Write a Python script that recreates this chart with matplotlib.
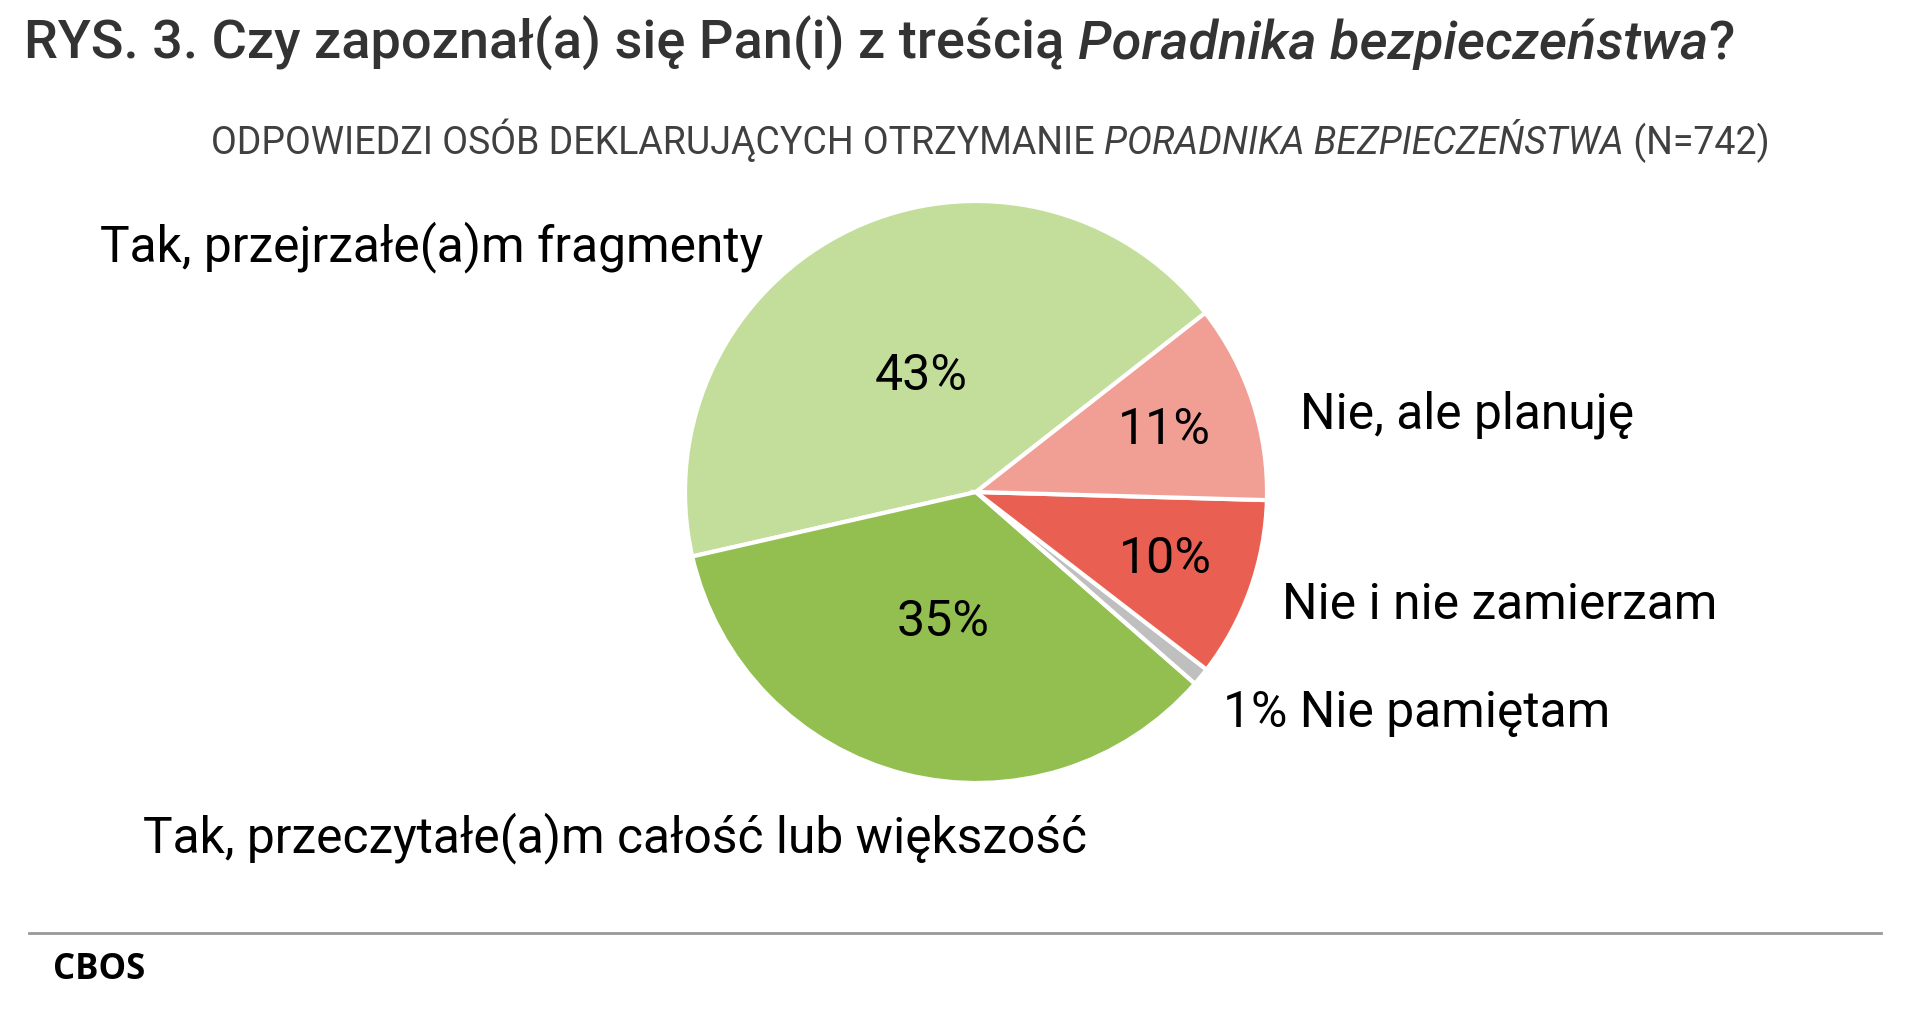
import matplotlib
matplotlib.use("Agg")
import matplotlib.pyplot as plt
import numpy as np

# ---- data ----
categories = ["Tak, przejrzałe(a)m fragmenty",
              "Tak, przeczytałe(a)m całość lub większość",
              "Nie pamiętam",
              "Nie i nie zamierzam",
              "Nie, ale planuję"]
values = [43, 35, 1, 10, 11]
colors = ["#c3de9a", "#93bf51", "#bfbfbf", "#e96052", "#f19e94"]

title_parts = [("RYS. 3. Czy zapoznał(a) się Pan(i) z treścią ", "normal"),
               ("Poradnika bezpieczeństwa", "italic"),
               ("?", "normal")]
subtitle_parts = [("ODPOWIEDZI OSÓB DEKLARUJĄCYCH OTRZYMANIE ", "normal"),
                  ("PORADNIKA BEZPIECZEŃSTWA", "italic"),
                  (" (N=742)", "normal")]
source = "CBOS"

W, H = 1905, 1032
fig = plt.figure(figsize=(W / 100, H / 100), dpi=100)
fig.patch.set_facecolor("white")

def fx(x):
    return x / W

def fy(y):
    return 1 - y / H

FONT = "Roboto"

# ---- pie ----
cx, cy, R = 976, 492, 291
ax = fig.add_axes([fx(cx - R), fy(cy + R), 2 * R / W, 2 * R / H])
wedges, _ = ax.pie(values, colors=colors, startangle=38, counterclock=True,
                   wedgeprops=dict(edgecolor="white", linewidth=3))
ax.set_xlim(-1, 1)
ax.set_ylim(-1, 1)
ax.set_aspect("equal")
for w in wedges:
    w.set_clip_on(False)

# inner percentage labels
pct_dist = [0.44, 0.46, None, 0.69, 0.68]
for w, v, d in zip(wedges, values, pct_dist):
    if d is None:
        continue
    ang = np.deg2rad((w.theta1 + w.theta2) / 2)
    ax.text(d * np.cos(ang), d * np.sin(ang), f"{v}%", ha="center", va="center",
            fontsize=36, family=FONT, color="black")

# outer labels
outer = [
    (categories[0], 100, 247, "left"),
    (categories[1], 143, 838, "left"),
    (f"{values[2]}% {categories[2]}", 1223, 713, "left"),
    (categories[3], 1282, 605, "left"),
    (categories[4], 1300, 415, "left"),
]
for txt, x, y, ha in outer:
    fig.text(fx(x), fy(y), txt, ha=ha, va="center", fontsize=35.8,
             family=FONT, color="black")

# ---- title / subtitle with mixed styles ----
renderer = fig.canvas.get_renderer()

def draw_parts(parts, x0, y, size, weight, color):
    x = x0
    for s, style in parts:
        t = fig.text(fx(x), fy(y), s, ha="left", va="baseline", fontsize=size,
                     family=FONT, fontstyle=style, fontweight=weight, color=color)
        x += t.get_window_extent(renderer).width

draw_parts(title_parts, 24, 59, 39, "medium", "#333333")
draw_parts(subtitle_parts, 211, 154, 27, "normal", "#404040")

# ---- footer ----
line = plt.Line2D([fx(29), fx(1881)], [fy(933), fy(933)], transform=fig.transFigure,
                  color="#999999", linewidth=2)
fig.add_artist(line)
fig.text(fx(53), fy(970), source, ha="left", va="center", fontsize=25,
         family="Open Sans", fontweight="bold", color="black")

fig.savefig("out.png", dpi=100, facecolor="white")
